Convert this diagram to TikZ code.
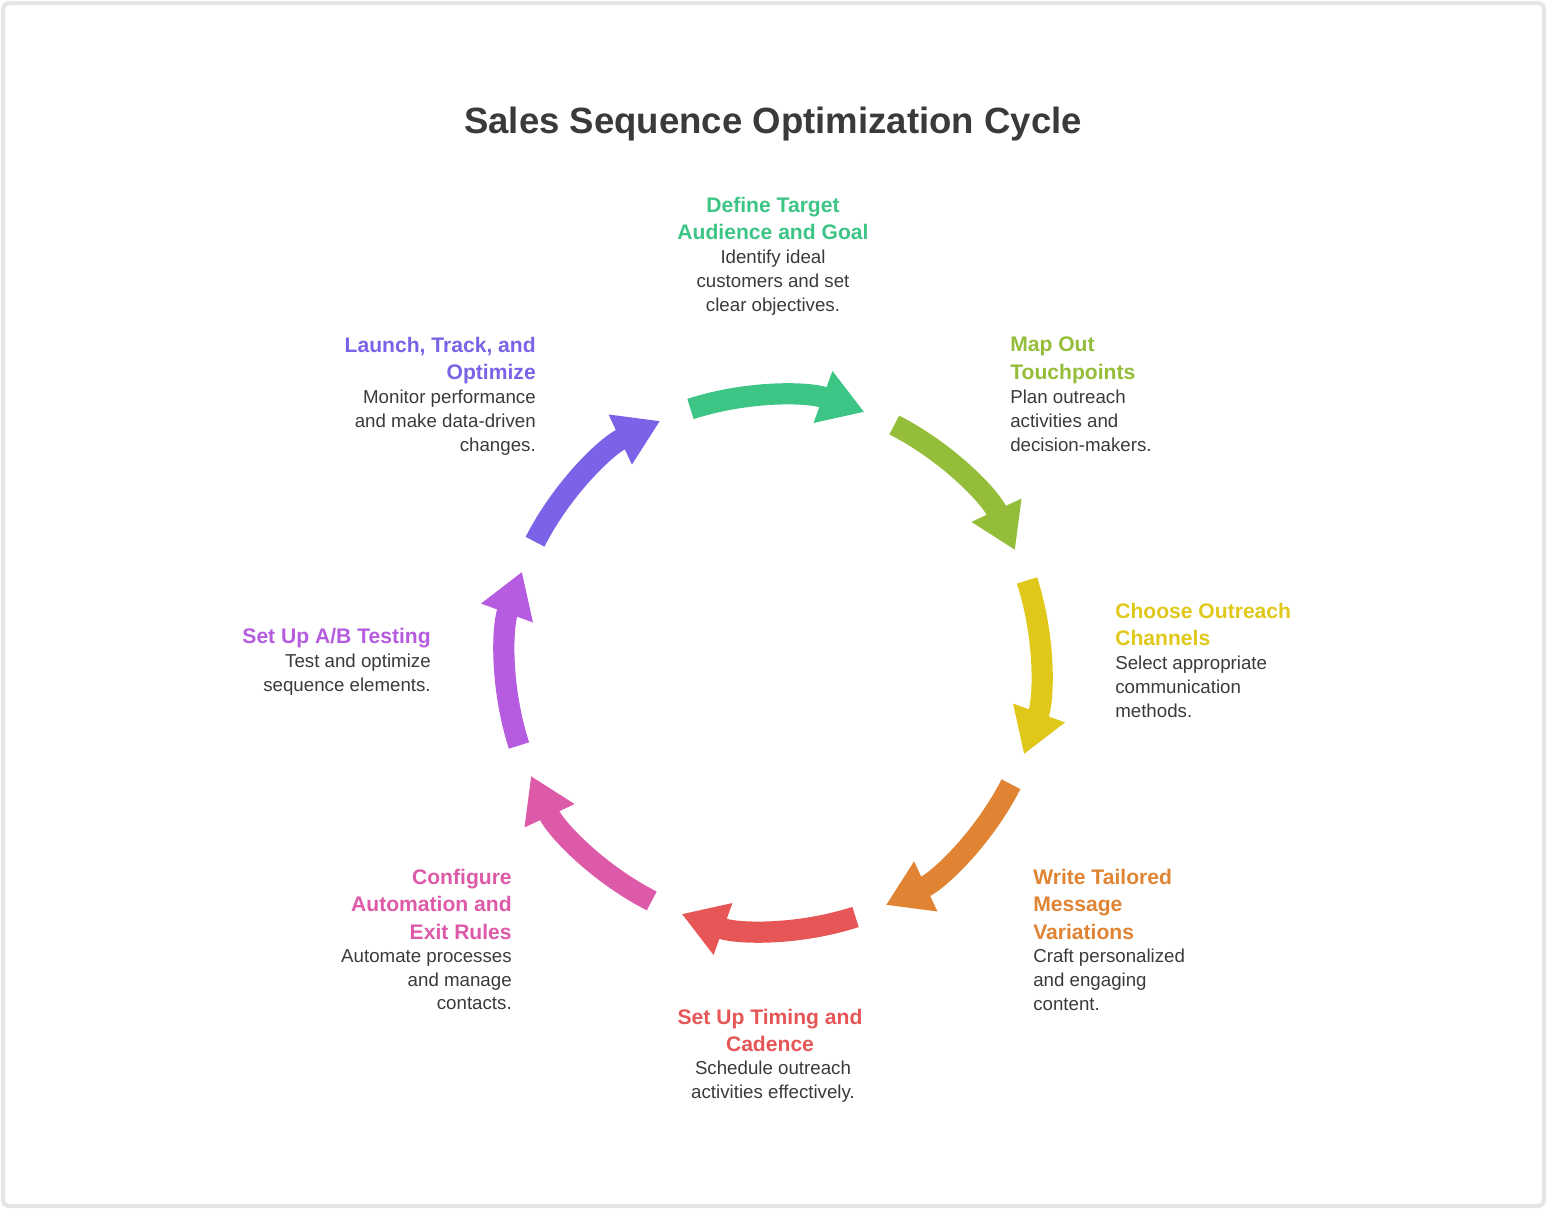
\documentclass[tikz,border=0pt]{standalone}
\usepackage{fontspec}
\setmainfont{Liberation Sans}
\usetikzlibrary{arrows.meta,positioning,calc}
\definecolor{cGreen}{HTML}{3CC585}
\definecolor{cLime}{HTML}{94BD3A}
\definecolor{cYellow}{HTML}{E0C81A}
\definecolor{cOrange}{HTML}{E08433}
\definecolor{cRed}{HTML}{E65656}
\definecolor{cPink}{HTML}{DD5AA8}
\definecolor{cPurple}{HTML}{B65CE0}
\definecolor{cViolet}{HTML}{7B62E6}
\definecolor{txt}{HTML}{3A3A3A}
\tikzset{
cycarrow/.style={line width=0.53cm,color=#1,-{Triangle[length=1.1cm,width=1.3cm]}},
steptitle/.style={font=\fontsize{15}{19.5}\selectfont\bfseries,color=#1,inner sep=0pt},
stepdesc/.style={font=\fontsize{13.3}{17}\selectfont,color=txt,inner sep=0pt},
}
\begin{document}
\begin{tikzpicture}[x=0.025cm,y=0.025cm]
    \useasboundingbox (0,0) rectangle (1548,1209);
    \draw[black!10,line width=3pt,rounded corners=4pt] (3,3) rectangle (1544,1206);
    \coordinate (O) at (773,546);

    \node[font=\fontsize{26}{30}\selectfont\bfseries,color=txt] (title) at (773,1085) {Sales Sequence Optimization Cycle};

    % cycle arrows
    \foreach \s/\c in {108/cGreen,63/cLime,18/cYellow,-27/cOrange,-72/cRed,-117/cPink,-162/cPurple,-207/cViolet}
        \draw[cycarrow=\c] ($(O)+(\s:6.675cm)$) arc[start angle=\s, delta angle=-38, radius=6.675cm];

    % step labels
    \node[steptitle=cGreen,align=center,anchor=north] (t1) at (773,1012) {Define Target\\Audience and Goal};
    \node[stepdesc,align=center,anchor=north] (d1) at (773,959) {Identify ideal\\customers and set\\clear objectives.};

    \node[steptitle=cLime,align=left,anchor=north west] (t2) at (1010,872) {Map Out\\Touchpoints};
    \node[stepdesc,align=left,anchor=north west] (d2) at (1010,819) {Plan outreach\\activities and\\decision-makers.};

    \node[steptitle=cYellow,align=left,anchor=north west] (t3) at (1115,606) {Choose Outreach\\Channels};
    \node[stepdesc,align=left,anchor=north west] (d3) at (1115,553) {Select appropriate\\communication\\methods.};

    \node[steptitle=cOrange,align=left,anchor=north west] (t4) at (1033,340) {Write Tailored\\Message\\Variations};
    \node[stepdesc,align=left,anchor=north west] (d4) at (1033,260) {Craft personalized\\and engaging\\content.};

    \node[steptitle=cRed,align=center,anchor=north] (t5) at (770,200) {Set Up Timing and\\Cadence};
    \node[stepdesc,align=center,anchor=north] (d5) at (773,148) {Schedule outreach\\activities effectively.};

    \node[steptitle=cPink,align=right,anchor=north east] (t6) at (512,340) {Configure\\Automation and\\Exit Rules};
    \node[stepdesc,align=right,anchor=north east] (d6) at (512,260) {Automate processes\\and manage\\contacts.};

    \node[steptitle=cPurple,align=right,anchor=north east] (t7) at (431,581) {Set Up A/B Testing};
    \node[stepdesc,align=right,anchor=north east] (d7) at (431,555) {Test and optimize\\sequence elements.};

    \node[steptitle=cViolet,align=right,anchor=north east] (t8) at (536,872) {Launch, Track, and\\Optimize};
    \node[stepdesc,align=right,anchor=north east] (d8) at (536,819) {Monitor performance\\and make data-driven\\changes.};
\end{tikzpicture}
\end{document}
